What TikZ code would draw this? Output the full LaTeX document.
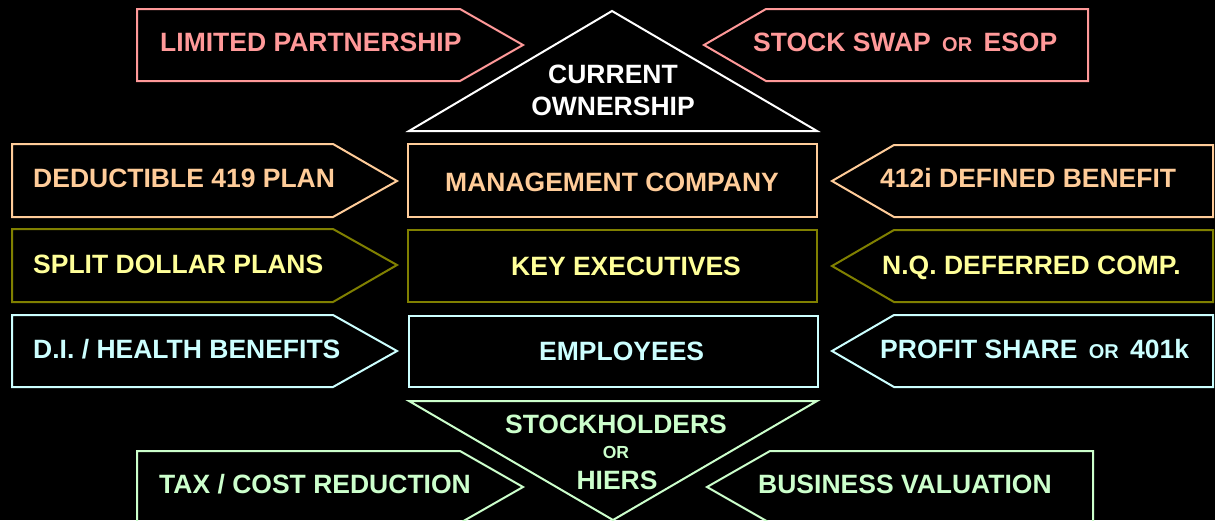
\documentclass[tikz,border=0pt]{standalone}
\usepackage{fontspec}
\setmainfont{Liberation Sans}
\definecolor{pinkc}{HTML}{FF9999}
\definecolor{peachc}{HTML}{FFCC99}
\definecolor{olivec}{HTML}{808000}
\definecolor{yellowc}{HTML}{FFFF99}
\definecolor{cyanc}{HTML}{CCFFFF}
\definecolor{greenc}{HTML}{CCFFCC}
\newcommand{\smallor}{\hspace{4pt}{\fontsize{20}{20}\selectfont OR}\hspace{4pt}}
\newcommand{\tinyor}{{\fontsize{17.5}{17.5}\selectfont OR}}
\tikzset{
  shapeline/.style={line width=2pt, line join=miter},
  lbl/.style={inner sep=0pt, anchor=base west, font=\fontsize{26.5}{30}\selectfont\bfseries},
  clbl/.style={inner sep=0pt, anchor=base, font=\fontsize{26.5}{30}\selectfont\bfseries},
}
\begin{document}
\begin{tikzpicture}[x=1pt,y=-1pt]
\useasboundingbox (0,0) rectangle (1215,520);
\fill[black] (0,0) rectangle (1215,520);
% top row
\draw[shapeline,pinkc] (137,9) -- (460,9) -- (523,45) -- (460,81) -- (137,81) -- cycle;
\draw[shapeline,pinkc] (1088,9) -- (766,9) -- (704,45) -- (766,81) -- (1088,81) -- cycle;
\draw[shapeline,white] (612,11) -- (817,131) -- (409,131) -- cycle;
\node[lbl,pinkc] (lp) at (160,51) {LIMITED PARTNERSHIP};
\node[lbl,pinkc] (ss) at (753,51) {STOCK SWAP \smallor{} ESOP};
\node[clbl,white] (cur) at (613,83) {CURRENT};
\node[clbl,white] (own) at (613,115) {OWNERSHIP};
% row 1
\draw[shapeline,peachc] (12,144) -- (333,144) -- (397,181) -- (333,217) -- (12,217) -- cycle;
\draw[shapeline,peachc] (408,144) rectangle (817,217);
\draw[shapeline,peachc] (1213,145) -- (894,145) -- (832,181) -- (894,217) -- (1213,217) -- cycle;
\node[lbl,peachc] (ded) at (33,187) {DEDUCTIBLE 419 PLAN};
\node[lbl,peachc] (mgmt) at (445,191) {MANAGEMENT COMPANY};
\node[lbl,peachc] (def) at (880,187) {412i DEFINED BENEFIT};
% row 2
\draw[shapeline,olivec] (12,229) -- (333,229) -- (397,265) -- (333,302) -- (12,302) -- cycle;
\draw[shapeline,olivec] (408,230) rectangle (817,302);
\draw[shapeline,olivec] (1213,230) -- (894,230) -- (832,266) -- (894,302) -- (1213,302) -- cycle;
\node[lbl,yellowc] (split) at (33,273) {SPLIT DOLLAR PLANS};
\node[lbl,yellowc] (key) at (511,275) {KEY EXECUTIVES};
\node[lbl,yellowc] (nq) at (882,274) {N.Q. DEFERRED COMP.};
% row 3
\draw[shapeline,cyanc] (12,315) -- (333,315) -- (397,351) -- (333,387) -- (12,387) -- cycle;
\draw[shapeline,cyanc] (409,316) rectangle (818,387);
\draw[shapeline,cyanc] (1213,315) -- (894,315) -- (832,351) -- (894,387) -- (1213,387) -- cycle;
\node[lbl,cyanc] (di) at (33,358) {D.I. / HEALTH BENEFITS};
\node[lbl,cyanc] (emp) at (539,360) {EMPLOYEES};
\node[lbl,cyanc] (ps) at (880,358) {PROFIT SHARE \smallor{} 401k};
% bottom
\draw[shapeline,greenc] (409,401) -- (817,401) -- (613,520) -- cycle;
\draw[shapeline,greenc] (137,524) -- (137,451) -- (460,451) -- (523,487) -- (460,523);
\draw[shapeline,greenc] (1093,524) -- (1093,451) -- (770,451) -- (707,487) -- (770,523);
\node[clbl,greenc] (sh) at (616,433) {STOCKHOLDERS};
\node[clbl,greenc] (or) at (616,458) {\tinyor};
\node[clbl,greenc] (hiers) at (617,489) {HIERS};
\node[lbl,greenc] (tax) at (159,493) {TAX / COST REDUCTION};
\node[lbl,greenc] (bv) at (758,493) {BUSINESS VALUATION};
\end{tikzpicture}
\end{document}
